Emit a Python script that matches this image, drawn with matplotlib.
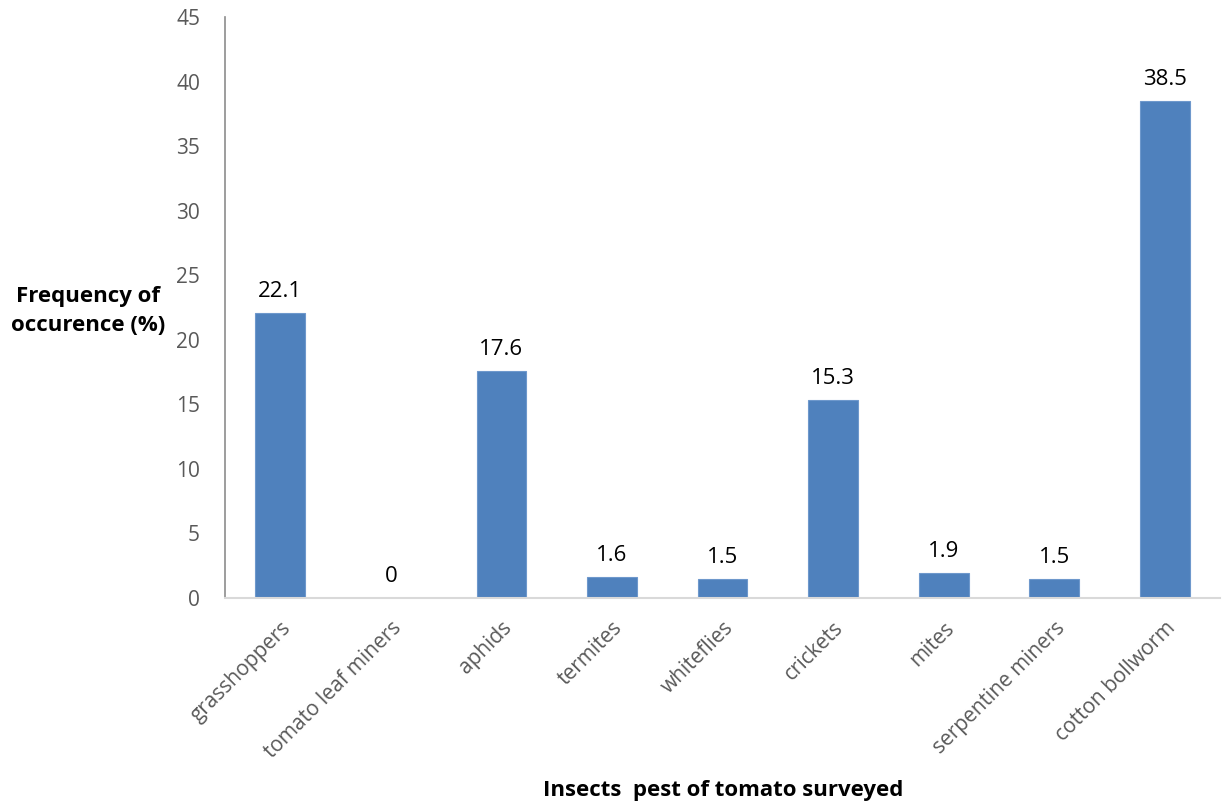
import matplotlib.pyplot as plt
import numpy as np

plt.rcParams['font.family'] = ['Open Sans', 'DejaVu Sans']

pests = ['grasshoppers', 'tomato leaf miners', 'aphids', 'termites', 'whiteflies',
         'crickets', 'mites', 'serpentine miners', 'cotton bollworm']
occurrence = [22.1, 0, 17.6, 1.6, 1.5, 15.3, 1.9, 1.5, 38.5]
y_ticks = [0, 5, 10, 15, 20, 25, 30, 35, 40, 45]

fig = plt.figure(figsize=(12.27, 8.07), dpi=100)
ax = fig.add_axes([0.1834, 0.259, 0.811, 0.72])

x = np.arange(len(pests))
bars = ax.bar(x, occurrence, width=0.45, color='#4F81BD', edgecolor='#6E98CC',
              linewidth=0.8, zorder=2)

for xi, v in zip(x, occurrence):
    ax.annotate(f'{v:g}', (xi, v), textcoords='offset points', xytext=(0, 8),
                ha='center', va='bottom', fontsize=16, color='black')

ax.set_xlim(-0.5, len(pests) - 0.5)
ax.set_ylim(0, 45)
ax.set_yticks(y_ticks)
ax.tick_params(axis='y', length=0, pad=18, labelsize=15, labelcolor='#595959')
ax.tick_params(axis='x', length=0, pad=14)
ax.set_xticks(x)
ax.set_xticklabels(pests, rotation=45, ha='right', rotation_mode='anchor',
                   fontsize=15, color='#595959')

for side in ['top', 'right']:
    ax.spines[side].set_visible(False)
ax.spines['left'].set_color('#8C8C8C')
ax.spines['left'].set_linewidth(1.2)
ax.spines['bottom'].set_color('#D9D9D9')
ax.spines['bottom'].set_linewidth(1.5)
ax.spines['bottom'].set_zorder(3)

fig.text(0.072, 0.615, 'Frequency of\noccurence (%)', ha='center', va='center',
         fontsize=16, fontweight='bold', linespacing=1.5)
fig.text(0.589, 0.021, 'Insects  pest of tomato surveyed', ha='center', va='center',
         fontsize=16, fontweight='bold')

fig.savefig('out.png', dpi=100)
